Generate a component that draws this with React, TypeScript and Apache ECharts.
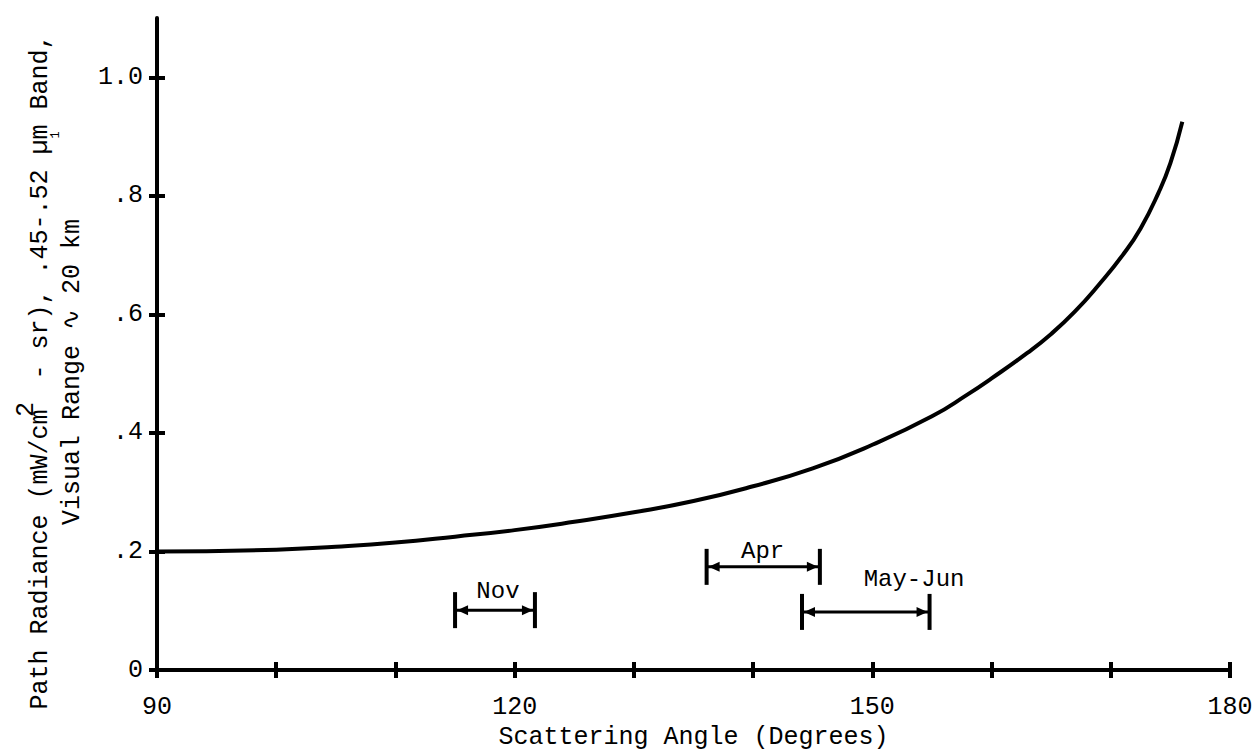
import React, { useEffect, useRef } from "react";
import * as echarts from "echarts";

// Path radiance curve (scattering angle in degrees, radiance in mW/cm^2-sr)
const curveAngle = [90, 100, 105, 110, 115, 120, 125, 130, 135, 140, 145, 150, 155, 158, 160, 163, 165, 167, 169, 171, 172.5, 174, 175, 176];
const curveRadiance = [0.2, 0.203, 0.208, 0.215, 0.225, 0.236, 0.25, 0.266, 0.285, 0.31, 0.34, 0.38, 0.428, 0.465, 0.492, 0.535, 0.567, 0.605, 0.65, 0.7, 0.745, 0.805, 0.855, 0.925];

// Seasonal scattering-angle ranges
const periodNames = ["Nov", "Apr", "May-Jun"];
const periodStart = [115.0, 136.1, 144.1];
const periodEnd = [121.7, 145.6, 154.8];
const periodLevel = [0.101, 0.174, 0.098];
const periodLabelAngle = [118.6, 140.8, 153.5];
const periodLabelLevel = [0.133, 0.2, 0.152];

// Axes
const xTickLabels = [90, 120, 150, 180];
const yTickValues = [0, 0.2, 0.4, 0.6, 0.8, 1.0];
const yTickLabels = ["0", ".2", ".4", ".6", ".8", "1.0"];

const FONT = "'Liberation Mono', 'DejaVu Sans Mono', monospace";
const FS = 25;

export default function App() {
  const ref = useRef<HTMLDivElement>(null);

  useEffect(() => {
    if (!ref.current) return;
    const chart = echarts.init(ref.current, undefined, { renderer: "svg" });

    const curveData = curveAngle.map((a, i) => [a, curveRadiance[i]]);
    const periodData = periodStart.map((s, i) => [s, periodEnd[i], periodLevel[i], periodLabelAngle[i], periodLabelLevel[i]]);

    const yLabelFmt = (v: number) => {
      const i = yTickValues.findIndex((t) => Math.abs(t - v) < 1e-6);
      return i >= 0 ? yTickLabels[i] : "";
    };

    const baseX = {
      type: "value",
      min: 90,
      max: 180,
      interval: 10,
      position: "bottom",
      splitLine: { show: false },
    };
    const baseY = {
      type: "value",
      min: 0,
      max: 1.1,
      interval: 0.2,
      position: "left",
      splitLine: { show: false },
    };
    const tickStyle = { color: "#000", width: 4 };

    const option: any = {
      animation: false,
      backgroundColor: "#ffffff",
      grid: { left: 157, right: 27, top: 18, bottom: 86, containLabel: false },
      xAxis: [
        {
          ...baseX,
          axisLine: { show: true, lineStyle: { color: "#000", width: 4 } },
          axisTick: { show: true, inside: false, length: 8, lineStyle: tickStyle },
          axisLabel: {
            show: true,
            customValues: xTickLabels,
            margin: 25,
            color: "#000",
            fontFamily: FONT,
            fontSize: FS,
          },
          name: "Scattering Angle (Degrees)",
          nameLocation: "middle",
          nameGap: 54,
          nameTextStyle: { color: "#000", fontFamily: FONT, fontSize: FS },
          z: 3,
        },
        {
          ...baseX,
          axisLine: { show: false },
          axisTick: { show: true, inside: true, length: 8, lineStyle: tickStyle },
          axisLabel: { show: false },
          z: 3,
        },
      ],
      yAxis: [
        {
          ...baseY,
          axisLine: { show: true, lineStyle: { color: "#000", width: 4 } },
          axisTick: { show: true, inside: false, length: 8, customValues: yTickValues, lineStyle: tickStyle },
          axisLabel: {
            show: true,
            customValues: yTickValues,
            formatter: yLabelFmt,
            margin: 14,
            color: "#000",
            fontFamily: FONT,
            fontSize: FS,
          },
          z: 3,
        },
        {
          ...baseY,
          axisLine: { show: false },
          axisTick: { show: true, inside: true, length: 8, customValues: yTickValues, lineStyle: tickStyle },
          axisLabel: { show: false },
          z: 3,
        },
      ],
      graphic: [
        {
          type: "text",
          x: 40,
          y: 372,
          rotation: Math.PI / 2,
          style: {
            text: "Path Radiance (mW/cm  - sr), .45-.52 \u00b5m Band,",
            fill: "#000",
            font: `${FS}px ${FONT}`,
            textAlign: "center",
            textVerticalAlign: "middle",
          },
        },
        {
          type: "text",
          x: 26,
          y: 372 + 2.5 * FS * 0.6,
          rotation: Math.PI / 2,
          style: {
            text: "2",
            fill: "#000",
            font: `${FS}px ${FONT}`,
            textAlign: "center",
            textVerticalAlign: "middle",
          },
        },
        {
          type: "text",
          x: 72,
          y: 372,
          rotation: Math.PI / 2,
          style: {
            text: "Visual Range \u223f 20 km",
            fill: "#000",
            font: `${FS}px ${FONT}`,
            textAlign: "center",
            textVerticalAlign: "middle",
          },
        },
        {
          type: "text",
          x: 56,
          y: 135,
          rotation: Math.PI / 2,
          style: {
            text: "1",
            fill: "#000",
            font: `12px ${FONT}`,
            textAlign: "center",
            textVerticalAlign: "middle",
          },
        },
      ],
      series: [
        {
          type: "line",
          xAxisIndex: 0,
          yAxisIndex: 0,
          data: curveData,
          smooth: 0.5,
          showSymbol: false,
          symbol: "none",
          lineStyle: { color: "#000", width: 4 },
          z: 5,
        },
        {
          type: "custom",
          xAxisIndex: 0,
          yAxisIndex: 0,
          data: periodData,
          encode: { x: [0, 1, 3], y: [2, 4] },
          renderItem: (params: any, api: any) => {
            const x0 = api.value(0);
            const x1 = api.value(1);
            const lv = api.value(2);
            const p0 = api.coord([x0, lv]);
            const p1 = api.coord([x1, lv]);
            const pl = api.coord([api.value(3), api.value(4)]);
            const h = 18;
            const a = 11;
            const aw = 5;
            return {
              type: "group",
              children: [
                { type: "line", shape: { x1: p0[0], y1: p0[1], x2: p1[0], y2: p1[1] }, style: { stroke: "#000", lineWidth: 3 } },
                { type: "line", shape: { x1: p0[0], y1: p0[1] - h, x2: p0[0], y2: p0[1] + h }, style: { stroke: "#000", lineWidth: 4 } },
                { type: "line", shape: { x1: p1[0], y1: p1[1] - h, x2: p1[0], y2: p1[1] + h }, style: { stroke: "#000", lineWidth: 4 } },
                {
                  type: "polygon",
                  shape: { points: [[p0[0] + 2, p0[1]], [p0[0] + 2 + a, p0[1] - aw], [p0[0] + 2 + a, p0[1] + aw]] },
                  style: { fill: "#000" },
                },
                {
                  type: "polygon",
                  shape: { points: [[p1[0] - 2, p1[1]], [p1[0] - 2 - a, p1[1] - aw], [p1[0] - 2 - a, p1[1] + aw]] },
                  style: { fill: "#000" },
                },
                {
                  type: "text",
                  x: pl[0],
                  y: pl[1],
                  style: {
                    text: periodNames[params.dataIndex],
                    fill: "#000",
                    font: `${FS - 1}px ${FONT}`,
                    textAlign: "center",
                    textVerticalAlign: "middle",
                  },
                },
              ],
            };
          },
          z: 6,
        },
      ],
    };

    chart.setOption(option);
    return () => chart.dispose();
  }, []);

  return (
    <div
      ref={ref}
      style={{ position: "absolute", left: 0, top: 0, width: 1257, height: 756, background: "#fff" }}
    />
  );
}
